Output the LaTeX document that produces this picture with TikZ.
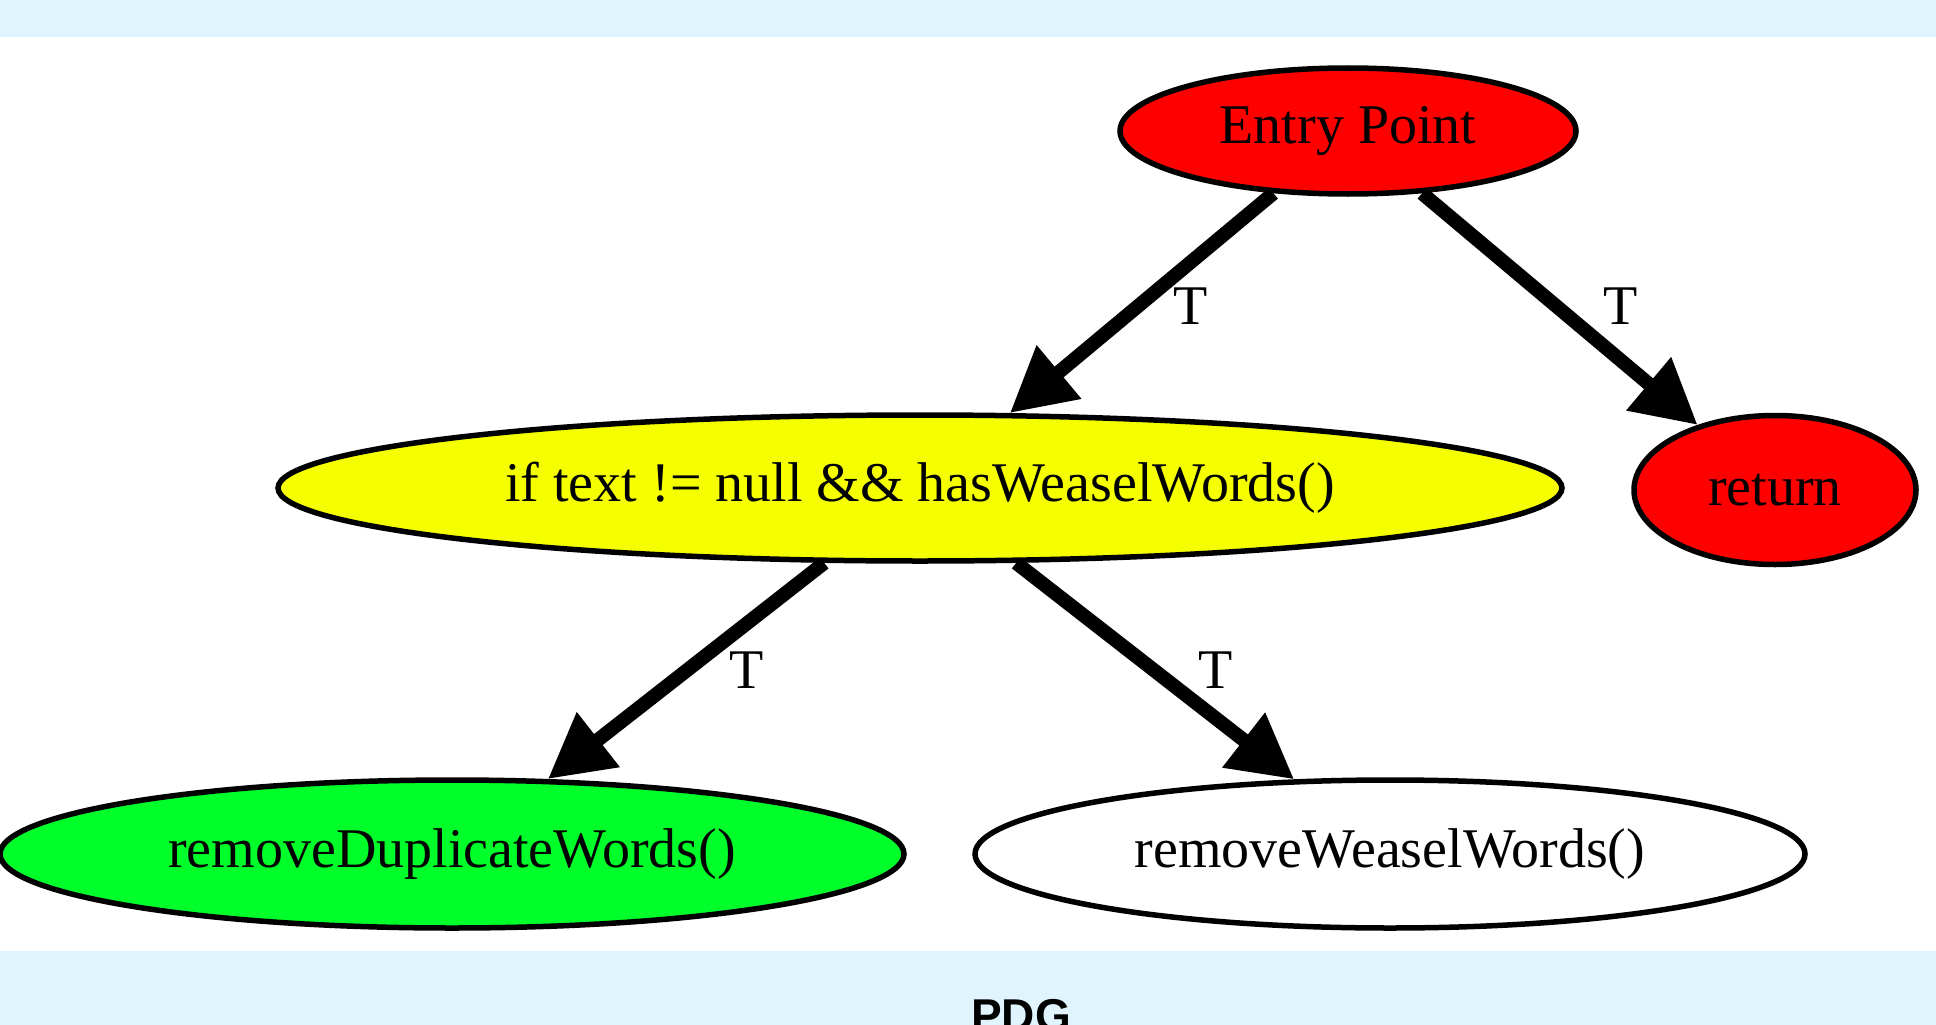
\documentclass[tikz,border=0pt]{standalone}
\usepackage{fontspec}
\setmainfont{Liberation Serif}
\newfontfamily\pdgfont{Liberation Sans}
\usetikzlibrary{shapes.geometric,arrows.meta}
\definecolor{band}{HTML}{E0F4FE}
\definecolor{nred}{HTML}{FF0000}
\definecolor{nyellow}{HTML}{F5FF00}
\definecolor{ngreen}{HTML}{00FF2A}
\tikzset{
  gnode/.style={ellipse,draw=black,line width=5.5pt,inner sep=0pt,
    font=\fontsize{56}{60}\selectfont},
  gedge/.style={line width=14pt,-{Triangle[length=64pt,width=66pt]},shorten >=0pt},
  elab/.style={font=\fontsize{56}{60}\selectfont,inner sep=0pt}
}
\begin{document}
\begin{tikzpicture}[x=1pt,y=-1pt]
\useasboundingbox (0,0) rectangle (1936,1025);
\fill[band] (0,0) rectangle (1936,37);
\fill[band] (0,951) rectangle (1936,1025);
\node[gnode,fill=nred,minimum width=456pt,minimum height=126pt] (entry) at (1348,131) {Entry Point};
\node[gnode,fill=nyellow,minimum width=1284pt,minimum height=146pt] (cond) at (920,488) {if text != null \&\& hasWeaselWords()};
\node[gnode,fill=nred,minimum width=282pt,minimum height=149pt] (ret) at (1775,490) {return};
\node[gnode,fill=ngreen,minimum width=904pt,minimum height=148pt] (dup) at (452,854) {removeDuplicateWords()};
\node[gnode,fill=white,minimum width=830pt,minimum height=148pt] (weasel) at (1390,854) {removeWeaselWords()};
\draw[gedge] (entry) -- (cond);
\draw[gedge] (entry) -- (ret);
\draw[gedge] (cond) -- (dup);
\draw[gedge] (cond) -- (weasel);
\node[elab] (t1) at (1191,306) {T};
\node[elab] (t2) at (1621,306) {T};
\node[elab] (t3) at (747,670) {T};
\node[elab] (t4) at (1216,670) {T};
\node[font=\pdgfont\bfseries\fontsize{46}{50}\selectfont,anchor=base,inner sep=0pt] (pdg) at (1021,1031) {PDG};
\end{tikzpicture}
\end{document}
